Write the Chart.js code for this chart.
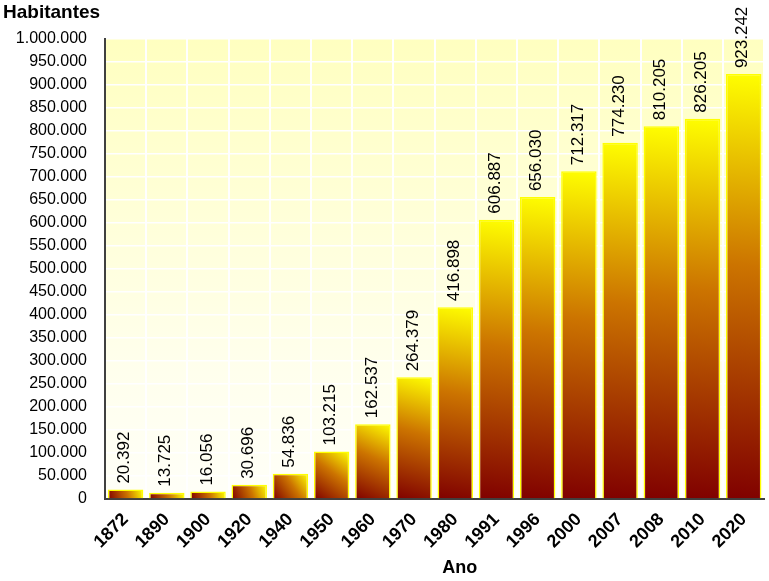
<!DOCTYPE html>
<html>
<head>
<meta charset="utf-8">
<script src="https://cdn.jsdelivr.net/npm/chart.js@4/dist/chart.umd.min.js"></script>
<style>
html,body{margin:0;padding:0;background:#fff;}
canvas{display:block;}
</style>
</head>
<body>
<canvas id="c" width="769" height="581"></canvas>
<script>
const categories = ['1872','1890','1900','1920','1940','1950','1960','1970','1980','1991','1996','2000','2007','2008','2010','2020'];
const habitantes = [20392,13725,16056,30696,54836,103215,162537,264379,416898,606887,656030,712317,774230,810205,826205,923242];
const yTickStep = 50000;
const yMax = 1000000;
const yTitle = 'Habitantes';
const xTitle = 'Ano';

function fmt(v){
  return String(Math.round(v)).replace(/\B(?=(\d{3})+(?!\d))/g,'.');
}

const BAR_FRAC = 0.86;

const bgPlugin = {
  id:'bgPlugin',
  beforeDraw(chart){
    const {ctx, chartArea:a} = chart;
    const g = ctx.createLinearGradient(0,a.top,0,a.bottom);
    g.addColorStop(0,'#ffffc0');
    g.addColorStop(0.35,'#ffffd6');
    g.addColorStop(0.7,'#ffffec');
    g.addColorStop(1,'#fffff8');
    ctx.save();
    ctx.fillStyle = g;
    ctx.fillRect(a.left,a.top,a.right-a.left,a.bottom-a.top);
    ctx.restore();
  }
};

const labelPlugin = {
  id:'labelPlugin',
  afterDatasetsDraw(chart){
    const {ctx} = chart;
    const meta = chart.getDatasetMeta(0);
    ctx.save();
    ctx.font = '17px "Liberation Sans", Arial, sans-serif';
    ctx.fillStyle = '#000';
    ctx.textAlign = 'left';
    ctx.textBaseline = 'middle';
    meta.data.forEach((bar,i)=>{
      ctx.save();
      ctx.translate(bar.x - 1, bar.y - 6);
      ctx.rotate(-Math.PI/2);
      ctx.fillText(fmt(habitantes[i]),0,0);
      ctx.restore();
    });
    ctx.restore();
  },
  afterDraw(chart){
    const {ctx, chartArea:a} = chart;
    ctx.save();
    ctx.font = 'bold 18px "Liberation Sans", Arial, sans-serif';
    ctx.fillStyle = '#000';
    ctx.textAlign = 'center';
    ctx.textBaseline = 'middle';
    ctx.fillText(xTitle, (a.left+a.right)/2 + 25, 568);
    ctx.restore();
  }
};

new Chart(document.getElementById('c'),{
  type:'bar',
  data:{
    labels:categories,
    datasets:[{
      data:habitantes,
      backgroundColor(c){
        const chart = c.chart;
        const {ctx, chartArea, scales} = chart;
        if(!chartArea || !scales || !scales.x || c.type !== 'data') return '#c06000';
        const x = scales.x.getPixelForValue(c.dataIndex);
        const y = scales.y.getPixelForValue(c.raw);
        const b = scales.y.getPixelForValue(0);
        const w = (chartArea.right-chartArea.left)/categories.length*BAR_FRAC;
        const g = ctx.createLinearGradient(x-w/2,b,x+w/2,y);
        g.addColorStop(0,'#800000');
        g.addColorStop(0.55,'#cc7400');
        g.addColorStop(1,'#ffff00');
        return g;
      },
      borderColor:'#ffff00',
      borderWidth:1.5,
      categoryPercentage:1,
      barPercentage:BAR_FRAC
    }]
  },
  options:{
    responsive:false,
    animation:false,
    devicePixelRatio:1,
    layout:{padding:{left:3,right:0,top:0,bottom:0}},
    plugins:{
      legend:{display:false},
      tooltip:{enabled:false},
      title:{
        display:true,
        text:yTitle,
        align:'start',
        color:'#000',
        font:{family:'"Liberation Sans", Arial, sans-serif',size:19,weight:'bold'},
        padding:{top:1,bottom:15}
      }
    },
    scales:{
      x:{
        grid:{color:'#ffffff',lineWidth:2,drawTicks:false,offset:true},
        border:{color:'#404040',width:2},
        ticks:{
          color:'#000',
          maxRotation:45,minRotation:45,
          padding:10,
          font:{family:'"Liberation Sans", Arial, sans-serif',size:18,weight:'bold'}
        },
        afterFit(s){ s.height = 82; }
      },
      y:{
        min:0,max:yMax,
        grid:{color:'#ffffff',lineWidth:1.5,drawTicks:false},
        border:{color:'#404040',width:2},
        ticks:{
          stepSize:yTickStep,
          color:'#000',
          padding:18,
          font:{family:'"Liberation Sans", Arial, sans-serif',size:16},
          callback:(v)=>fmt(v)
        },
        afterFit(s){ s.width = 102; }
      }
    }
  },
  plugins:[bgPlugin,labelPlugin]
});
</script>
</body>
</html>
